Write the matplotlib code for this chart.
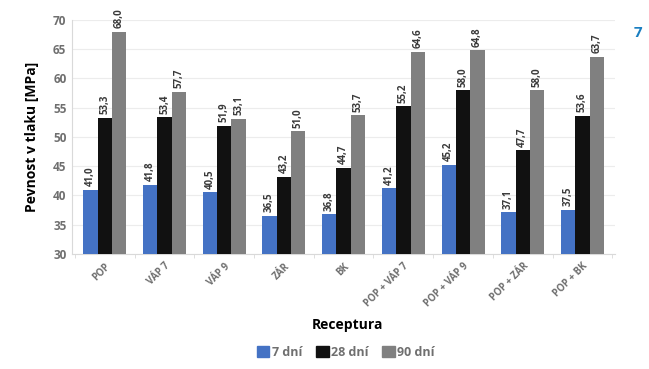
import matplotlib
matplotlib.use('Agg')
import matplotlib.pyplot as plt
import numpy as np

# receptury a pevnosti v tlaku (MPa) po 7, 28 a 90 dnech
receptury = ['POP', 'VÁP 7', 'VÁP 9', 'ZÁR', 'BK',
             'POP + VÁP 7', 'POP + VÁP 9', 'POP + ZÁR', 'POP + BK']
dni_7 = [41.0, 41.8, 40.5, 36.5, 36.8, 41.2, 45.2, 37.1, 37.5]
dni_28 = [53.3, 53.4, 51.9, 43.2, 44.7, 55.2, 58.0, 47.7, 53.6]
dni_90 = [68.0, 57.7, 53.1, 51.0, 53.7, 64.6, 64.8, 58.0, 63.7]
popisky = ['7 dní', '28 dní', '90 dní']

barvy = ['#4472c4', '#111111', '#808080']
sedy_text = '#6f6f6f'

plt.rcParams['font.family'] = ['Open Sans', 'DejaVu Sans']

fig = plt.figure(figsize=(6.49, 3.69), dpi=100)
ax = fig.add_axes([0.111, 0.312, 0.837, 0.634])

x = np.arange(len(receptury))
w = 0.24
serie = [dni_7, dni_28, dni_90]
for i, (hodnoty, barva) in enumerate(zip(serie, barvy)):
    pos = x + (i - 1) * w
    ax.bar(pos, np.array(hodnoty) - 30, width=w, bottom=30, color=barva, zorder=3)
    # popisky hodnot nad sloupci, s desetinnou čárkou
    for px, v in zip(pos, hodnoty):
        ax.text(px, v + 0.6, ('%.1f' % v).replace('.', ','), rotation=90,
                ha='center', va='bottom', fontsize=7, fontweight='bold',
                color='#3a3a3a')

ax.set_ylim(30, 70)
ax.set_xlim(-0.55, len(receptury) - 0.45)
ax.set_yticks(np.arange(30, 71, 5))
ax.yaxis.grid(True, color='#ececec', linewidth=0.8, zorder=0)
ax.set_xticks(x)
ax.set_xticklabels(receptury, rotation=45, ha='right', rotation_mode='anchor',
                   fontsize=7, fontweight='bold', color=sedy_text)
ax.set_xticks(np.arange(-0.5, len(receptury)), minor=True)
for lbl in ax.get_yticklabels():
    lbl.set_fontweight('bold')
ax.tick_params(axis='y', labelsize=8.5, colors=sedy_text, length=0, pad=4)
ax.tick_params(axis='x', which='major', length=0, pad=5)
ax.tick_params(axis='x', which='minor', length=3, color='#d9d9d9')
for s in ['top', 'right']:
    ax.spines[s].set_visible(False)
ax.spines['left'].set_color('#d9d9d9')
ax.spines['bottom'].set_color('#d9d9d9')

ax.set_ylabel('Pevnost v tlaku [MPa]', fontsize=10, fontweight='bold', labelpad=10)

fig.text(0.536, 0.118, 'Receptura', ha='center', va='center',
         fontsize=10, fontweight='bold')

handles = [plt.Rectangle((0, 0), 1, 1, color=c) for c in barvy]
leg = fig.legend(handles, popisky, loc='center', bbox_to_anchor=(0.533, 0.045),
                 ncol=3, frameon=False, handlelength=1.0, handleheight=1.0,
                 handletextpad=0.2, columnspacing=1.1,
                 prop={'size': 9, 'weight': 'bold'})
for t in leg.get_texts():
    t.set_color(sedy_text)

fig.text(0.99, 0.91, '7', ha='right', va='center', fontsize=11,
         fontweight='bold', color='#1a7fc1')

fig.savefig('out.png', dpi=100)
